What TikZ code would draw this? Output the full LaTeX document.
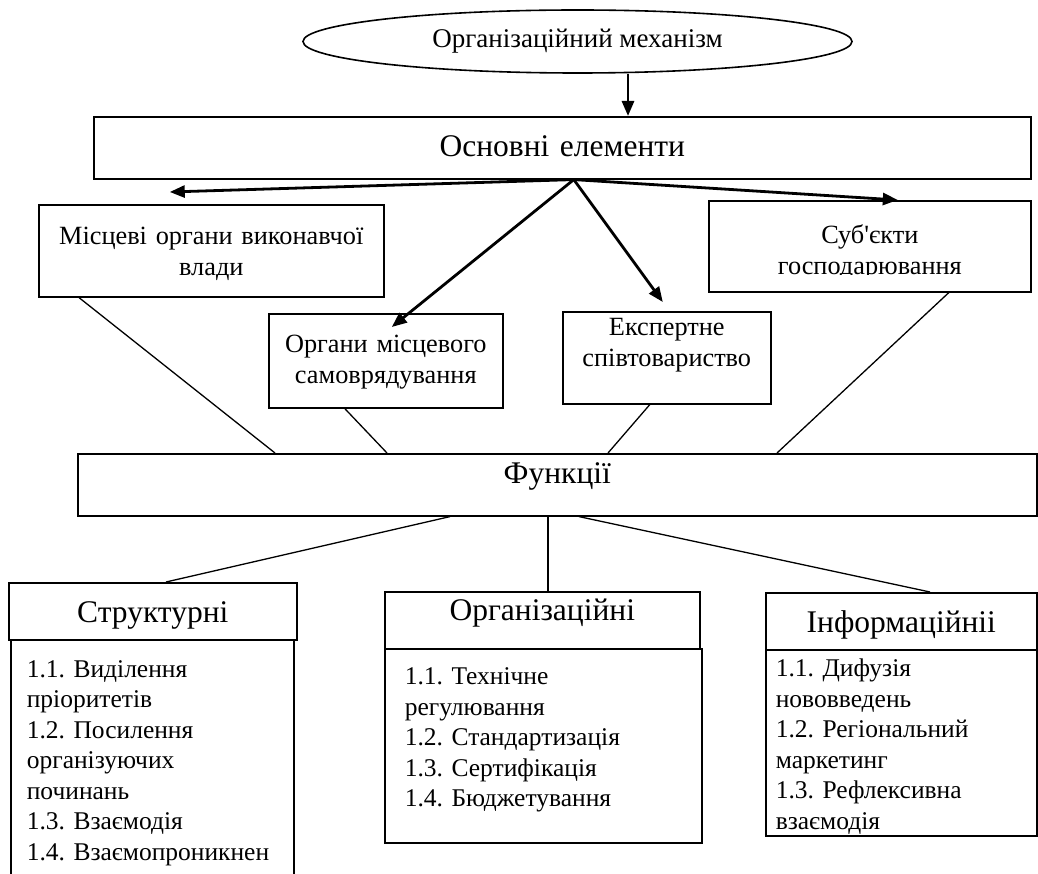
\documentclass[tikz,border=0pt]{standalone}
\usepackage{fontspec}
\setmainfont{Liberation Serif}
\usetikzlibrary{shapes.geometric,arrows.meta}

\begin{document}
\frenchspacing
\begin{tikzpicture}[x=1pt, y=-1pt,
    bx/.style={draw, line width=1.6pt, inner sep=0pt, align=center, font=\fontsize{26.3}{31}\selectfont},
    head/.style={bx, font=\fontsize{31.5}{38}\selectfont},
    list/.style={bx, align=left, font=\fontsize{25.5}{30.5}\selectfont},
    arr/.style={-{Triangle[length=15pt,width=12pt]}, line width=2.8pt},
    link/.style={line width=1.3pt}]

\useasboundingbox (0,0) rectangle (1038,874);
\clip (0,0) rectangle (1038,874);

\node[ellipse, draw, line width=1.6pt, minimum width=549pt, minimum height=63pt, inner sep=0pt, font=\fontsize{27}{31}\selectfont] (mech) at (577.5,41.5) {Організаційний механізм};

\node[head, anchor=north west, text width=937pt, text height=40pt, text depth=22pt] (osn) at (93,116) {Основні елементи};

\node[bx, anchor=north west, text width=345pt, text height=40pt, text depth=52pt] (mvo) at (38,204) {Місцеві органи виконавчої\\влади};
\node[bx, anchor=north west, text width=234pt, text height=39pt, text depth=55pt] (oms) at (268,313) {Органи місцевого\\самоврядування};
\node[bx, anchor=north west, text width=208pt, text height=24pt, text depth=68pt] (eks) at (562,311) {Експертне\\співтовариство};
\node[bx, anchor=north west, minimum width=322pt, minimum height=91pt] (sub) at (708,200) {};
\begin{scope}
  \clip (sub.north west) rectangle ([yshift=18pt]sub.south east);
  \node[bx, draw=none, anchor=north west, text width=322pt, text height=43pt, text depth=48pt] (subtext) at (708,200) {Суб\textquotesingle єкти\\господарювання};
\end{scope}

\node[head, anchor=north west, text width=959pt, text height=30pt, text depth=32pt] (fun) at (77,453) {Функції};

\node[head, anchor=north west, text width=288pt, text height=39.5pt, text depth=17.5pt] (strh) at (8,582) {Структурні};
\node[list, anchor=north west, inner xsep=16pt, text width=251pt, text height=37.5pt, text depth=300pt] (strl) at (10,639) {1.1. Виділення\\пріоритетів\\1.2. Посилення\\організуючих\\починань\\1.3. Взаємодія\\1.4. Взаємопроникнен};

\node[head, anchor=north west, text width=315pt, text height=29pt, text depth=28pt] (orgh) at (384,591) {Організаційні};
\node[list, anchor=north west, inner xsep=20pt, text width=277pt, text height=36pt, text depth=158pt] (orgl) at (384,648) {1.1. Технічне\\регулювання\\1.2. Стандартизація\\1.3. Сертифікація\\1.4. Бюджетування};

\node[head, anchor=north west, text width=271pt, text height=39.5pt, text depth=17.5pt] (infh) at (765,592) {Інформаційніі};
\node[list, anchor=north west, inner xsep=10pt, text width=251pt, text height=27pt, text depth=159pt] (infl) at (765,649) {1.1. Дифузія\\нововведень\\1.2. Регіональний\\маркетинг\\1.3. Рефлексивна\\взаємодія};

\draw[arr] ([xshift=50.5pt]mech.south) -- ([xshift=50.5pt]mech.south |- osn.north);
\coordinate (hub) at ([xshift=11.5pt]osn.south);
\draw[arr] (hub) -- ([xshift=-41.5pt,yshift=12pt]mvo.north);
\draw[arr] (hub) -- ([xshift=6pt,yshift=-14pt]oms.north);
\draw[arr] (hub) -- ([xshift=-4pt,yshift=9pt]eks.north);
\draw[arr] (hub) -- ([xshift=28pt]sub.north);

\draw[link] ([xshift=41pt]mvo.south west) -- ([xshift=198pt]fun.north west);
\draw[link] ([xshift=-41pt]oms.south) -- ([xshift=310pt]fun.north west);
\draw[link] ([xshift=-17pt]eks.south) -- ([xshift=531pt]fun.north west);
\draw[link] ([xshift=79pt]sub.south) -- ([xshift=700pt]fun.north west);

\draw[link] ([xshift=373pt]fun.south west) -- ([xshift=158pt]strh.north west);
\draw[link] ([xshift=471pt]fun.south west) -- ([xshift=471pt]fun.south west |- orgh.north);
\draw[link] ([xshift=502pt]fun.south west) -- ([xshift=165pt]infh.north west);
\end{tikzpicture}
\end{document}
